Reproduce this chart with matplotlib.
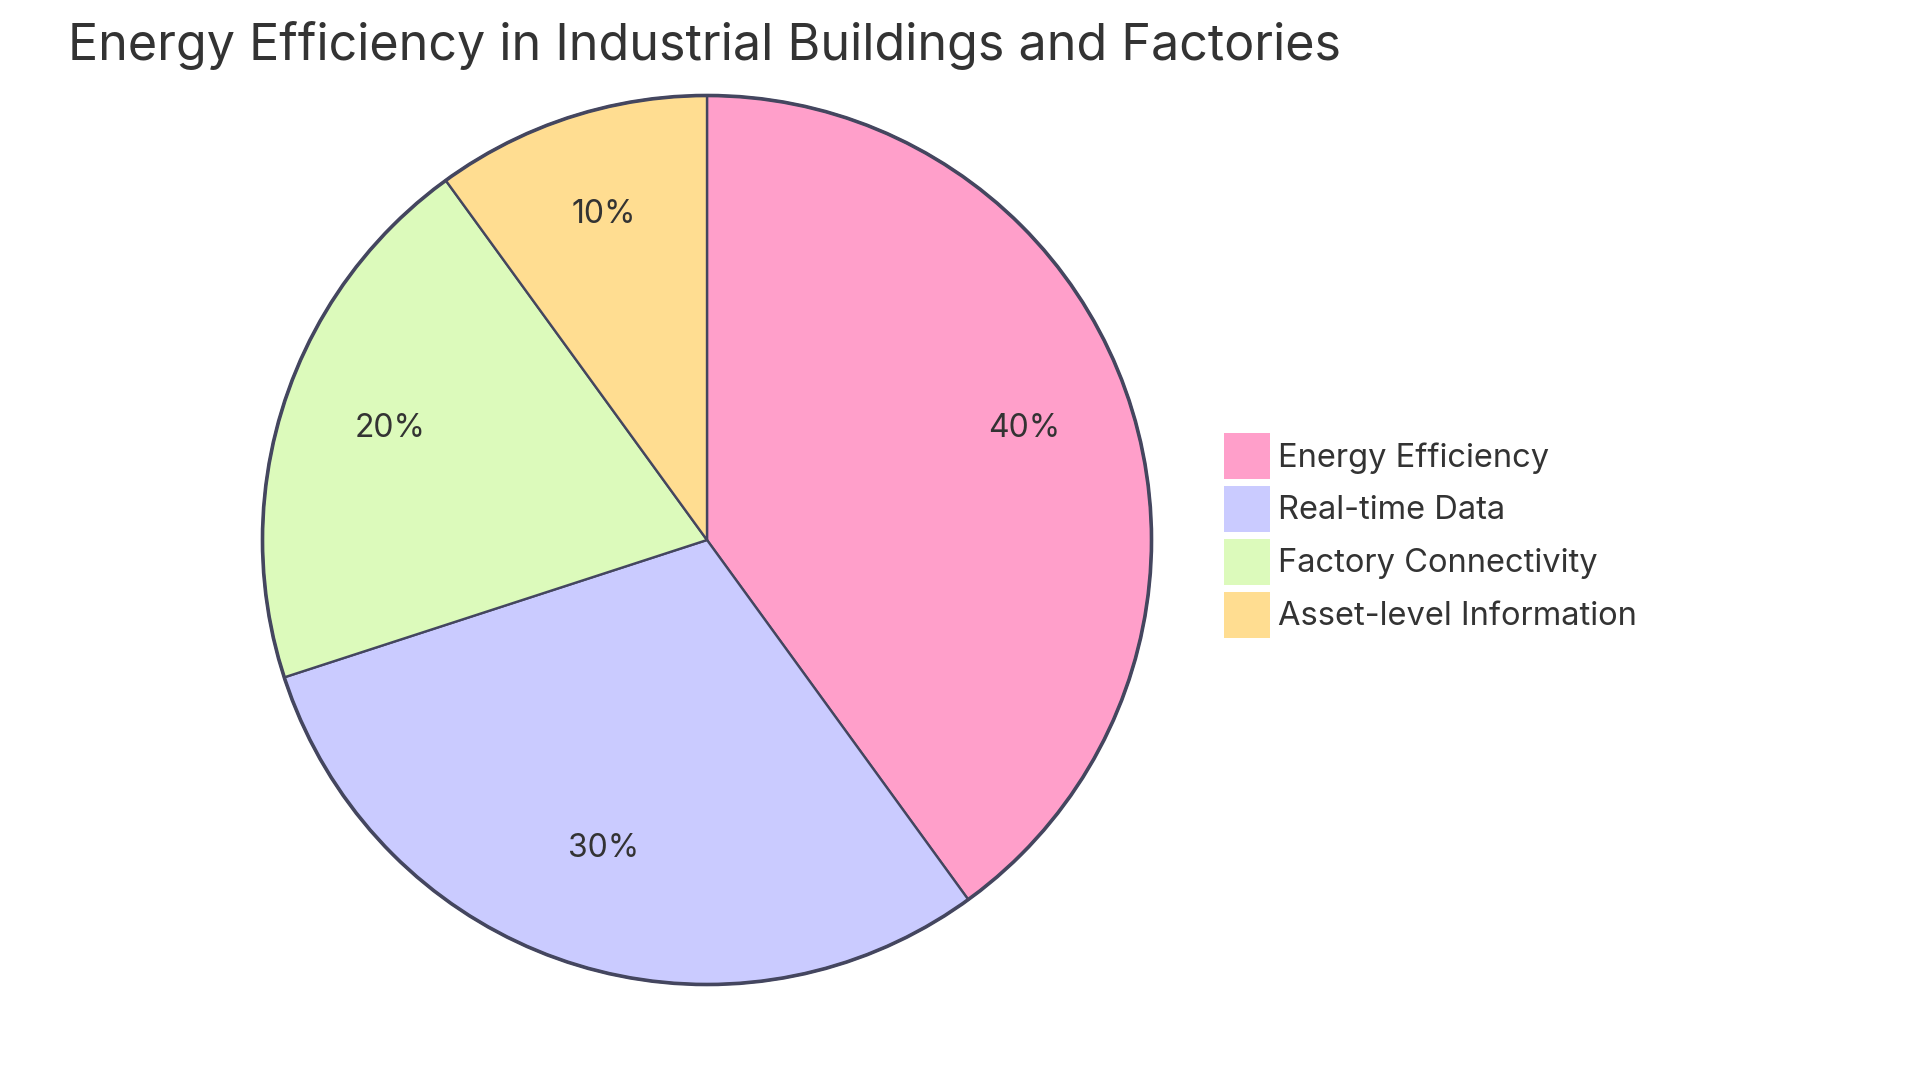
import matplotlib
matplotlib.use("Agg")
import matplotlib.pyplot as plt
from matplotlib.patches import Patch, Circle

# chart data
title = "Energy Efficiency in Industrial Buildings and Factories"
labels = ["Energy Efficiency", "Real-time Data", "Factory Connectivity", "Asset-level Information"]
values = [40, 30, 20, 10]
colors = ["#FF9FCA", "#CACBFF", "#DCFABB", "#FFDD91"]

edge = "#44465F"
ink = "#333333"
plt.rcParams["font.family"] = ["Inter", "DejaVu Sans"]

fig = plt.figure(figsize=(19.2, 10.8), dpi=100)
ax = fig.add_axes([0, 0, 1, 1])

wedges, _, pcts = ax.pie(values, colors=colors, startangle=90, counterclock=False,
                         center=(707, 540), radius=444.5, frame=True,
                         autopct="%.0f%%", pctdistance=0.75,
                         wedgeprops={"edgecolor": edge, "linewidth": 1.7})
ax.set_xlim(0, 1920)
ax.set_ylim(0, 1080)
ax.set_aspect("equal")
ax.axis("off")
for p in pcts:
    p.set_fontsize(23)
    p.set_color(ink)
    # labels sit a little above the slice anchor
    x, y = p.get_position()
    p.set_position((x, y + 8.5))

# outer ring is heavier than the slice lines
ax.add_patch(Circle((707, 540), 444.5, fill=False, edgecolor=edge, linewidth=2.6))

fig.text(68.5 / 1920, 1 - 60.5 / 1080, title, fontsize=36.2, color=ink,
         ha="left", va="baseline")

handles = [Patch(facecolor=c, edgecolor="none") for c in colors]
fs = 23.5
box = 33.1
hh = (box / fs - 0.245) / 0.65
leg = ax.legend(handles, labels, loc="upper left", bbox_to_anchor=(1224 / 1920, 1 - 433 / 1080),
                bbox_transform=fig.transFigure, frameon=False,
                borderpad=0, borderaxespad=0, handlelength=box / fs, handleheight=hh,
                handletextpad=6.0 / fs, labelspacing=5.0 / fs, labelcolor=ink,
                prop={"size": fs})

fig.savefig("out.png", dpi=100)
